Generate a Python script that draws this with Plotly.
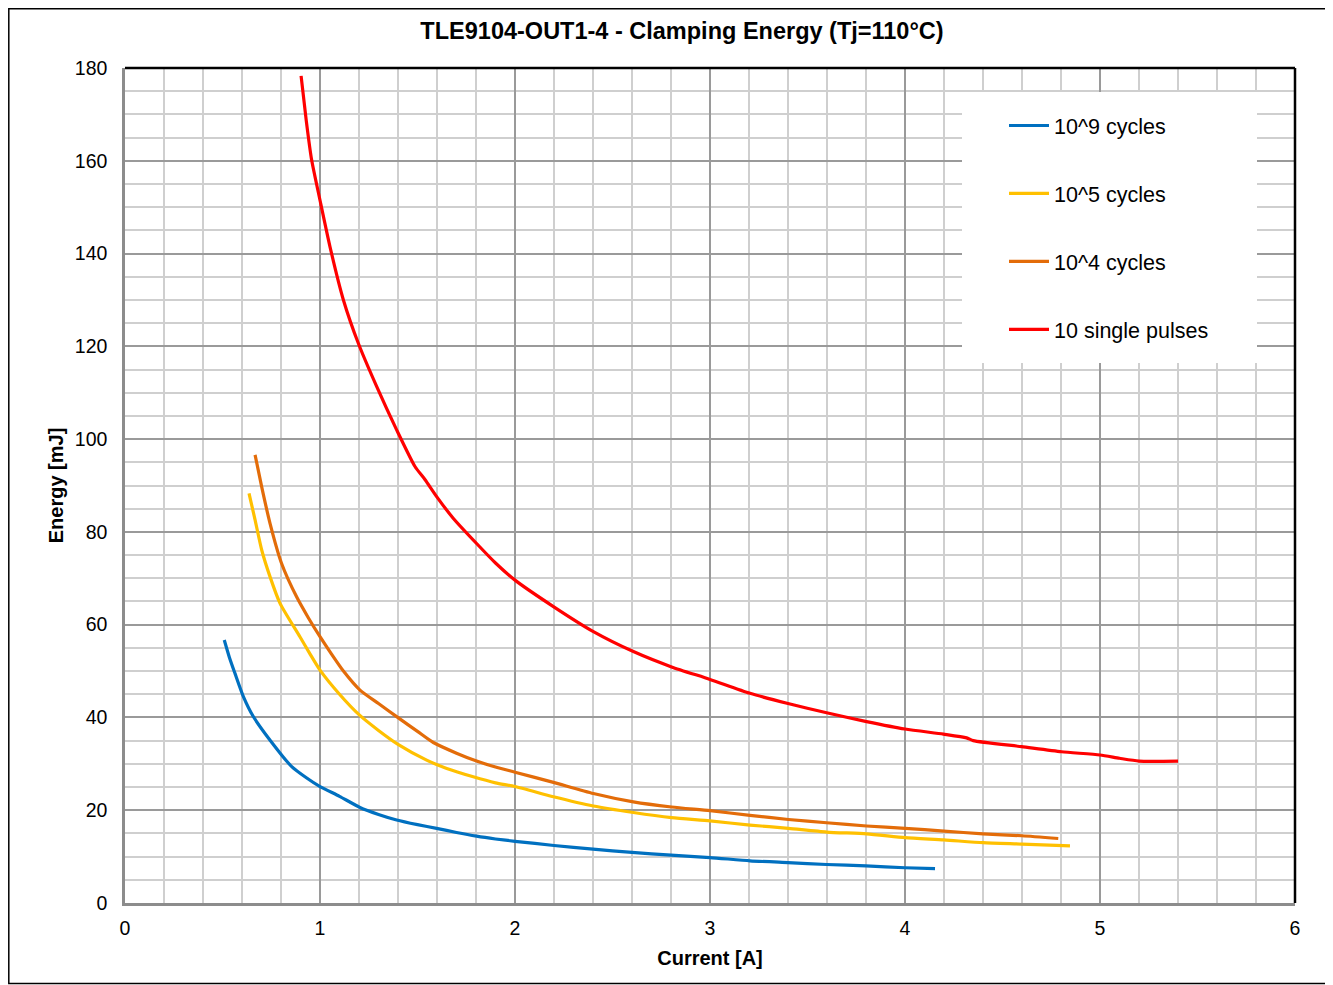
import plotly.graph_objects as go

# 10^9 cycles
x_e9 = [0.509, 0.535, 0.564, 0.607, 0.658, 0.744, 0.855, 0.93, 1.0, 1.1, 1.205, 1.3, 1.393, 1.5, 1.598, 1.7, 1.803, 1.9, 2.0, 2.2, 2.4, 2.6, 2.8, 3.0, 3.205, 3.4, 3.598, 3.8, 4.0, 4.154]
y_e9 = [56.7, 53.0, 49.5, 44.5, 40.2, 35.1, 29.4, 27.0, 25.1, 23.0, 20.6, 19.1, 17.9, 16.9, 16.1, 15.2, 14.4, 13.8, 13.3, 12.4, 11.6, 10.9, 10.3, 9.8, 9.1, 8.7, 8.3, 8.0, 7.6, 7.4]

# 10^5 cycles
x_e5 = [0.636, 0.667, 0.701, 0.744, 0.795, 0.897, 0.95, 1.0, 1.1, 1.2, 1.3, 1.4, 1.547, 1.65, 1.786, 1.9, 2.0, 2.197, 2.402, 2.607, 2.803, 3.0, 3.205, 3.402, 3.598, 3.803, 4.0, 4.2, 4.4, 4.6, 4.846]
y_e5 = [88.3, 82.6, 76.1, 70.3, 64.6, 57.4, 53.6, 50.2, 45.0, 40.6, 37.2, 34.2, 30.8, 29.0, 27.2, 25.9, 25.1, 22.9, 20.9, 19.5, 18.4, 17.7, 16.8, 16.1, 15.3, 14.9, 14.1, 13.6, 13.0, 12.7, 12.3]

# 10^4 cycles
x_e4 = [0.667, 0.701, 0.744, 0.803, 0.88, 0.94, 1.0, 1.06, 1.12, 1.205, 1.3, 1.402, 1.5, 1.581, 1.7, 1.803, 1.9, 2.0, 2.197, 2.402, 2.607, 2.803, 3.0, 3.205, 3.402, 3.598, 3.803, 4.0, 4.2, 4.4, 4.6, 4.786]
y_e4 = [96.6, 89.7, 81.8, 73.2, 66.0, 61.5, 57.4, 53.6, 50.0, 45.9, 43.0, 39.9, 37.0, 34.6, 32.3, 30.6, 29.3, 28.2, 26.0, 23.6, 21.8, 20.7, 19.9, 18.9, 18.0, 17.3, 16.6, 16.1, 15.5, 14.9, 14.5, 13.9]

# 10 single pulses
x_sp = [0.903, 0.93, 0.957, 1.0, 1.051, 1.12, 1.197, 1.291, 1.393, 1.487, 1.538, 1.6, 1.684, 1.803, 1.9, 2.0, 2.197, 2.402, 2.607, 2.803, 3.0, 3.205, 3.4, 3.598, 3.803, 4.0, 4.197, 4.316, 4.35, 4.598, 4.803, 5.0, 5.1, 5.2, 5.4]
y_sp = [178.3, 168.5, 160.2, 151.5, 141.5, 130.0, 120.6, 111.3, 102.0, 94.1, 91.3, 87.5, 82.9, 77.5, 73.3, 69.6, 63.9, 58.5, 54.2, 50.9, 48.2, 45.2, 43.0, 41.0, 39.1, 37.5, 36.4, 35.6, 35.0, 33.7, 32.6, 31.9, 31.2, 30.6, 30.6]

series_names = ["10^9 cycles", "10^5 cycles", "10^4 cycles", "10 single pulses"]
series_x = [x_e9, x_e5, x_e4, x_sp]
series_y = [y_e9, y_e5, y_e4, y_sp]
series_colors = ["#0070C0", "#FFC000", "#E36C09", "#FF0000"]

title_text = "TLE9104-OUT1-4 - Clamping Energy (Tj=110°C)"
x_title = "Current [A]"
y_title = "Energy [mJ]"

FONT = "Liberation Sans, Arial, sans-serif"

fig = go.Figure()
for i, (n, xs, ys, c) in enumerate(zip(series_names, series_x, series_y, series_colors)):
    fig.add_trace(go.Scatter(
        x=xs, y=ys, name=n, mode="lines",
        line=dict(color=c, width=3.2, shape="spline", smoothing=0.6),
        legendgroup=f"g{i}",
    ))

# page has an 8px body margin; figure placed at page offset (8, 8)
OFF = 8
W, H = 1333 - OFF, 985 - OFF
L, R, T, B = 125 - OFF, 38, 68 - OFF, 82
pw, ph = W - L - R, H - T - B

def px_x(p):  # page pixel -> paper
    return (p - OFF - L) / pw

def px_y(p):
    return (H - B - (p - OFF)) / ph

fig.update_layout(
    width=W, height=H,
    margin=dict(l=L, r=R, t=T, b=B, autoexpand=False),
    paper_bgcolor="white", plot_bgcolor="white",
    font=dict(family=FONT, color="#000000", size=19),
    title=dict(text=f"<b>{title_text}</b>", xref="container", x=(682 - OFF) / W, xanchor="center",
               yref="container", y=1 - (31 - OFF) / H, yanchor="middle",
               font=dict(family=FONT, size=23.5, color="#000000")),
    showlegend=True,
    legend=dict(x=px_x(1004), y=px_y(105), xanchor="left", yanchor="top",
                bgcolor="rgba(0,0,0,0)", borderwidth=0,
                font=dict(family=FONT, size=21.5, color="#000000"),
                tracegroupgap=37, itemwidth=40),
    xaxis=dict(range=[0, 6], dtick=1, tick0=0, showgrid=True,
               gridcolor="#9a9a9a", gridwidth=1.5,
               minor=dict(dtick=0.2, showgrid=True, gridcolor="#cfcfcf", gridwidth=1.5),
               showline=True, linecolor="#8c8c8c", linewidth=2.5, zeroline=False,
               ticks="", ticklabelstandoff=6,
               tickfont=dict(family=FONT, size=19.5, color="#000000"),
               title=dict(text=f"<b>{x_title}</b>", standoff=13,
                          font=dict(family=FONT, size=20, color="#000000"))),
    yaxis=dict(range=[0, 180], dtick=20, tick0=0, showgrid=True,
               gridcolor="#9a9a9a", gridwidth=1.5,
               minor=dict(dtick=5, showgrid=True, gridcolor="#cfcfcf", gridwidth=1.5),
               showline=True, linecolor="#8c8c8c", linewidth=2.5, zeroline=False,
               ticks="", ticklabelstandoff=11,
               tickfont=dict(family=FONT, size=19.5, color="#000000"),
               title=dict(text=f"<b>{y_title}</b>", standoff=6,
                          font=dict(family=FONT, size=20, color="#000000"))),
    shapes=[
        # legend white panel
        dict(type="rect", xref="paper", yref="paper",
             x0=px_x(962), x1=px_x(1257), y0=px_y(363), y1=px_y(92),
             fillcolor="white", line=dict(width=0), layer="above"),
        # top and right black frame of plot area
        dict(type="line", xref="paper", yref="paper", x0=0, x1=1, y0=1, y1=1,
             line=dict(color="black", width=2.5), layer="above"),
        dict(type="line", xref="paper", yref="paper", x0=1, x1=1, y0=0, y1=1,
             line=dict(color="black", width=2.5), layer="above"),
        # outer chart border
        dict(type="rect", xref="paper", yref="paper",
             x0=px_x(8.8), x1=px_x(1330), y0=px_y(983.5), y1=px_y(8.8),
             line=dict(color="black", width=1.5), fillcolor="rgba(0,0,0,0)", layer="above"),
    ],
)

fig.write_html("out.html")
